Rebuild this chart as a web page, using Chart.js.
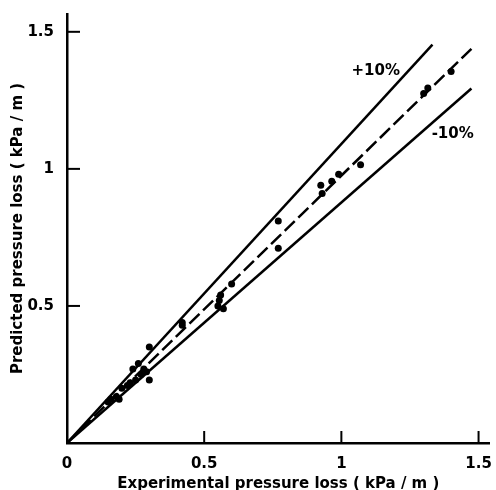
<!DOCTYPE html>
<html>
<head>
<meta charset="utf-8">
<script src="https://cdn.jsdelivr.net/npm/chart.js@4.4.1/dist/chart.umd.min.js"></script>
<style>
html,body{margin:0;padding:0;background:#fff;}
#wrap{width:496px;height:490px;position:relative;}
</style>
</head>
<body>
<div id="wrap"><canvas id="c" width="496" height="490"></canvas></div>
<script>
// Data (kPa/m)
const expX  = [0.15,0.16,0.18,0.19,0.20,0.22,0.23,0.24,0.25,0.26,0.27,0.28,0.29,0.30,0.30,0.42,0.42,0.55,0.555,0.56,0.57,0.60,0.77,0.77,0.925,0.93,0.965,0.99,1.07,1.30,1.315,1.40];
const predY = [0.15,0.16,0.17,0.16,0.20,0.21,0.22,0.27,0.23,0.29,0.25,0.27,0.26,0.35,0.23,0.44,0.43,0.50,0.52,0.54,0.49,0.58,0.81,0.71,0.94,0.91,0.955,0.98,1.015,1.275,1.295,1.355];
const plusLineX  = [0, 1.332];
const plusLineY  = [0, 1.453];
const centerLineX = [0, 1.474];
const centerLineY = [0, 1.438];
const minusLineX = [0, 1.474];
const minusLineY = [0, 1.293];
const tickValues = [0, 0.5, 1, 1.5];
const tickLabels = ['0', '0.5', '1', '1.5'];
const bandLabels = [{text:'+10%', x:1.037, y:1.355}, {text:'-10%', x:1.329, y:1.126}];

const FONT = "'DejaVu Sans', sans-serif";
const toXY = (xs, ys) => xs.map((v,i)=>({x:v, y:ys[i]}));

const fmt = (v) => {
  const i = tickValues.findIndex(t => Math.abs(t - v) < 1e-9);
  return i >= 0 ? tickLabels[i] : '';
};

const inwardTicks = {
  id: 'inwardTicks',
  afterDatasetsDraw(chart) {
    const ctx = chart.ctx;
    const xs = chart.scales.x, ys = chart.scales.y;
    ctx.save();
    ctx.strokeStyle = '#000';
    ctx.lineWidth = 2;
    tickValues.filter(v => v > 0).forEach(v => {
      const px = xs.getPixelForValue(v);
      ctx.beginPath(); ctx.moveTo(px, ys.bottom); ctx.lineTo(px, ys.bottom - 12); ctx.stroke();
      const py = ys.getPixelForValue(v);
      ctx.beginPath(); ctx.moveTo(xs.left, py); ctx.lineTo(xs.left + 13, py); ctx.stroke();
    });
    ctx.font = "bold 15px " + FONT;
    ctx.fillStyle = '#000';
    ctx.textAlign = 'left';
    ctx.textBaseline = 'middle';
    bandLabels.forEach(l => {
      ctx.fillText(l.text, xs.getPixelForValue(l.x), ys.getPixelForValue(l.y));
    });
    ctx.restore();
  }
};

new Chart(document.getElementById('c'), {
  type: 'scatter',
  data: {
    datasets: [
      { type:'line', data: toXY(plusLineX, plusLineY), borderColor:'#000', borderWidth:2.5, pointRadius:0, fill:false },
      { type:'line', data: toXY(minusLineX, minusLineY), borderColor:'#000', borderWidth:2.5, pointRadius:0, fill:false },
      { type:'line', data: toXY(centerLineX, centerLineY), borderColor:'#000', borderWidth:2.5, borderDash:[14,5], pointRadius:0, fill:false },
      { data: toXY(expX, predY), backgroundColor:'#000', borderColor:'#000', pointRadius:3.5, pointBorderWidth:0 }
    ]
  },
  options: {
    responsive: false,
    animation: false,
    layout: { padding: { top: 12, right: 6, left: 9, bottom: 0 } },
    plugins: { legend: { display:false }, tooltip: { enabled:false } },
    scales: {
      x: {
        type:'linear', min:0, max:1.54,
        border: { display:true, color:'#000', width:2.5 },
        grid: { display:false },
        ticks: { stepSize:0.5, includeBounds:false, autoSkip:false, maxRotation:0, color:'#000', font:{ family:FONT, size:15, weight:'bold' }, padding:4, callback:(v)=>fmt(v) },
        title: { display:true, text:'Experimental pressure loss ( kPa / m )', color:'#000', font:{ family:FONT, size:15, weight:'bold', lineHeight:0.85 }, padding:{top:5, bottom:0} },
        afterFit: (s) => { s.height = 47; }
      },
      y: {
        type:'linear', min:0, max:1.565,
        border: { display:true, color:'#000', width:2.5 },
        grid: { display:false },
        ticks: { stepSize:0.5, includeBounds:false, autoSkip:false, color:'#000', font:{ family:FONT, size:15, weight:'bold' }, padding:5, callback:(v)=> v === 0 ? '' : fmt(v) },
        title: { display:true, text:'Predicted pressure loss ( kPa / m )', color:'#000', font:{ family:FONT, size:15, weight:'bold' }, padding:{top:0, bottom:4} },
        afterFit: (s) => { s.width = 58; }
      }
    }
  },
  plugins: [inwardTicks]
});
</script>
</body>
</html>
